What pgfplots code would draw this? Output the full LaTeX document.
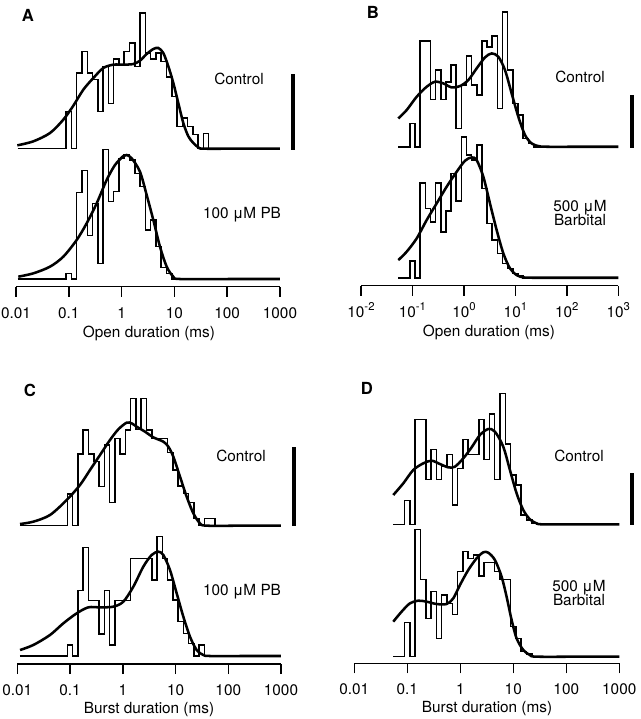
\documentclass[border=0pt]{standalone}
\usepackage{pgfplots}
\pgfplotsset{compat=1.18}
\usepackage{fontspec}
\setmainfont{TeX Gyre Heros}

\newcommand{\lab}{\fontsize{11.5}{13}\selectfont}
\newcommand{\ee}[1]{10\raisebox{0.85ex}{\fontsize{8.5}{9}\selectfont #1}}

% x is log10(duration in ms); y is in thirds of a pixel above the axis line
\pgfplotsset{
  panel/.style={
    clip=false, xmin=-2, xmax=3, ymin=0, ymax=860, y=0.25pt,
    axis x line=bottom, axis y line=none, ytick=\empty,
    axis line style={-, line width=1.1pt},
    xtick={-2,-1,0,1,2,3},
    tick align=outside, major tick length=7.5pt,
    tick style={black, line width=1.1pt},
    xticklabel style={font=\lab, anchor=base, yshift=-16pt},
    anchor=south west,
  },
  hist/.style={const plot, black, line width=1.15pt, no marks},
  fit/.style={smooth, tension=0.5, black, line width=1.9pt, no marks},
}

\begin{document}
\begin{tikzpicture}
\useasboundingbox (0,0) rectangle (480.75pt,-539.25pt);

% ---- A : open durations, PB
\begin{axis}[panel, x=39.6pt, at={(12pt,-215pt)},
  xticklabels={0.01,0.1,1,10,100,1000}]
\addplot[hist, y filter/.expression={y+414}] coordinates {
 (-1.97,0) (-1.05,112) (-0.95,0) (-0.85,227) (-0.75,292) (-0.65,227) (-0.55,207)
 (-0.45,112) (-0.35,247) (-0.25,135) (-0.15,269) (-0.05,252) (0.05,292) (0.15,317)
 (0.25,247) (0.35,407) (0.45,287) (0.55,269) (0.65,287) (0.75,262) (0.85,215)
 (0.95,157) (1.05,67) (1.15,92) (1.25,67) (1.35,42) (1.45,0) (1.55,45) (1.65,0) (3,0)};
\addplot[fit, y filter/.expression={y+414}] coordinates {
 (-1.975,10) (-1.672,22) (-1.356,47) (-1.104,87) (-0.914,129) (-0.725,177)
 (-0.535,212) (-0.346,242) (-0.157,252) (0.033,252) (0.222,254) (0.348,264)
 (0.475,284) (0.601,299) (0.696,302) (0.790,287) (0.885,247) (0.980,197)
 (1.074,137) (1.169,77) (1.264,37) (1.359,17) (1.453,4) (1.548,0) (2.2,0) (3,0)};
\addplot[hist, y filter/.expression={y+23}] coordinates {
 (-1.97,0) (-1.05,17) (-0.95,0) (-0.85,260) (-0.75,325) (-0.65,130) (-0.55,227)
 (-0.45,47) (-0.35,389) (-0.25,232) (-0.15,262) (-0.05,362) (0.05,372) (0.15,357)
 (0.25,317) (0.35,277) (0.45,147) (0.55,177) (0.65,97) (0.75,34) (0.85,17) (0.95,0) (3,0)};
\addplot[fit, y filter/.expression={y+23}] coordinates {
 (-1.956,7) (-1.672,17) (-1.356,37) (-1.104,67) (-0.851,117) (-0.662,167)
 (-0.472,227) (-0.283,297) (-0.125,342) (0.033,369) (0.096,372) (0.191,362)
 (0.348,322) (0.475,252) (0.601,177) (0.727,97) (0.854,37) (0.980,7) (1.106,0) (2.1,0) (3,0)};
\end{axis}

% ---- B : open durations, barbital
\begin{axis}[panel, x=38.6pt, at={(270.75pt,-214.3pt)},
  xticklabels={\ee{-2},\ee{-1},\ee{0},\ee{1},\ee{2},\ee{3}}]
\addplot[hist, y filter/.expression={y+417}] coordinates {
 (-1.275,0) (-1.05,70) (-0.95,0) (-0.85,318) (-0.75,318) (-0.65,142) (-0.55,230)
 (-0.45,142) (-0.35,195) (-0.25,245) (-0.15,55) (-0.05,185) (0.05,272) (0.15,185)
 (0.25,155) (0.35,318) (0.45,300) (0.55,332) (0.65,115) (0.75,405) (0.85,230)
 (0.95,130) (1.05,95) (1.15,25) (1.25,10) (1.35,0) (3,0)};
\addplot[fit, y filter/.expression={y+417}] coordinates {
 (-1.275,85) (-1.113,110) (-0.918,150) (-0.724,180) (-0.562,195) (-0.400,190)
 (-0.238,178) (-0.076,182) (0.085,200) (0.247,235) (0.409,268) (0.539,280)
 (0.668,270) (0.798,230) (0.927,160) (1.057,90) (1.187,35) (1.316,10) (1.446,2)
 (1.607,0) (2.3,0) (3,0)};
\addplot[hist, y filter/.expression={y+24}] coordinates {
 (-1.275,0) (-1.05,51) (-0.95,0) (-0.85,285) (-0.75,208) (-0.65,168) (-0.55,285)
 (-0.45,138) (-0.35,200) (-0.25,313) (-0.15,231) (-0.05,422) (0.05,368) (0.15,353)
 (0.25,398) (0.35,268) (0.45,163) (0.55,113) (0.65,73) (0.75,43) (0.85,28)
 (0.95,13) (1.05,5) (1.15,0) (3,0)};
\addplot[fit, y filter/.expression={y+24}] coordinates {
 (-1.275,53) (-1.113,78) (-0.918,118) (-0.724,173) (-0.530,223) (-0.336,273)
 (-0.141,318) (0.021,351) (0.150,361) (0.247,353) (0.377,303) (0.506,223)
 (0.636,143) (0.766,73) (0.895,28) (1.025,8) (1.154,1) (1.35,0) (2.2,0) (3,0)};
\end{axis}

% ---- C : burst durations, PB
\begin{axis}[panel, x=39.55pt, at={(13pt,-498pt)},
  xticklabels={0.01,0.1,1,10,100,1000}]
\addplot[hist, y filter/.expression={y+415}] coordinates {
 (-1.95,0) (-1.05,95) (-0.95,0) (-0.85,215) (-0.75,287) (-0.65,215) (-0.55,192)
 (-0.45,117) (-0.35,242) (-0.25,69) (-0.15,262) (-0.05,215) (0.05,287) (0.15,382)
 (0.25,289) (0.35,382) (0.45,287) (0.55,262) (0.65,262) (0.75,262) (0.85,219)
 (0.95,167) (1.05,119) (1.15,97) (1.25,70) (1.35,22) (1.45,0) (1.55,22) (1.65,22)
 (1.75,0) (3,0)};
\addplot[fit, y filter/.expression={y+415}] coordinates {
 (-1.949,5) (-1.697,12) (-1.381,32) (-1.064,77) (-0.812,122) (-0.622,167)
 (-0.432,212) (-0.243,257) (-0.085,289) (0.073,309) (0.168,307) (0.263,297)
 (0.421,282) (0.579,265) (0.769,252) (0.864,237) (0.958,207) (1.085,147)
 (1.211,87) (1.338,37) (1.464,7) (1.590,0) (2.3,0) (3,0)};
\addplot[hist, y filter/.expression={y+24}] coordinates {
 (-1.95,0) (-1.05,33) (-0.95,0) (-0.85,196) (-0.75,326) (-0.65,166) (-0.55,166)
 (-0.45,66) (-0.35,196) (-0.25,33) (-0.15,166) (-0.05,166) (0.05,166) (0.15,293)
 (0.25,293) (0.35,293) (0.45,293) (0.55,228) (0.65,358) (0.75,293) (0.85,228)
 (0.95,168) (1.05,103) (1.15,68) (1.25,38) (1.35,0) (1.45,33) (1.55,0) (3,0)};
\addplot[fit, y filter/.expression={y+24}] coordinates {
 (-1.949,18) (-1.697,33) (-1.381,63) (-1.128,98) (-0.875,128) (-0.654,146)
 (-0.432,146) (-0.179,148) (0.010,163) (0.200,208) (0.389,268) (0.547,303)
 (0.674,313) (0.769,303) (0.895,258) (1.022,188) (1.148,118) (1.274,58)
 (1.401,18) (1.527,3) (1.654,0) (2.3,0) (3,0)};
\end{axis}

% ---- D : burst durations, barbital
\begin{axis}[panel, x=39.75pt, at={(265.7pt,-497.5pt)},
  xticklabels={0.01,0.1,1,10,100,1000}]
\addplot[hist, y filter/.expression={y+417}] coordinates {
 (-1.264,0) (-1.05,71) (-0.95,0) (-0.85,315) (-0.75,315) (-0.65,135) (-0.55,225)
 (-0.45,135) (-0.35,175) (-0.25,210) (-0.15,58) (-0.05,168) (0.05,255) (0.15,210)
 (0.25,210) (0.35,315) (0.45,195) (0.55,331) (0.65,135) (0.75,393) (0.85,241)
 (0.95,148) (1.05,118) (1.15,28) (1.25,13) (1.35,3) (1.45,0) (3,0)};
\addplot[fit, y filter/.expression={y+417}] coordinates {
 (-1.264,88) (-1.075,123) (-0.887,163) (-0.698,183) (-0.541,191) (-0.384,181)
 (-0.226,171) (-0.101,173) (0.057,198) (0.214,231) (0.371,268) (0.528,286)
 (0.654,278) (0.811,233) (0.937,163) (1.063,93) (1.189,43) (1.314,15) (1.440,3)
 (1.566,0) (2.3,0) (3,0)};
\addplot[hist, y filter/.expression={y+20}] coordinates {
 (-1.264,0) (-1.05,102) (-0.95,0) (-0.85,382) (-0.75,232) (-0.65,115) (-0.55,195)
 (-0.45,55) (-0.35,185) (-0.25,160) (-0.15,127) (-0.05,255) (0.05,315) (0.15,295)
 (0.25,305) (0.35,242) (0.45,282) (0.55,282) (0.65,255) (0.75,232) (0.85,232)
 (0.95,90) (1.05,55) (1.15,15) (1.25,8) (1.35,0) (3,0)};
\addplot[fit, y filter/.expression={y+20}] coordinates {
 (-1.264,105) (-1.107,135) (-0.950,160) (-0.792,168) (-0.635,165) (-0.447,158)
 (-0.258,158) (-0.132,175) (-0.006,215) (0.151,260) (0.308,295) (0.434,313)
 (0.528,312) (0.654,290) (0.780,240) (0.874,180) (0.969,110) (1.063,55)
 (1.189,20) (1.314,5) (1.440,0) (2.3,0) (3,0)};
\end{axis}

% labels and scale bars, in pixel units of the reference
\begin{scope}[x=0.75pt,y=-0.75pt]
\foreach \p/\x/\y in {A/28/15, B/373/12, C/30/390, D/367/388}
  \node[font=\fontsize{12.5}{14}\selectfont\bfseries] at (\x,\y) {\p};
\node[font=\lab] at (239,79) {Control};
\node[font=\lab] at (242,215) {100 μM PB};
\node[font=\lab] at (580,77) {Control};
\node[font=\lab, align=center, inner sep=0pt] at (580,213) {500 μM\\[-2pt]Barbital};
\node[font=\lab] at (241,456) {Control};
\node[font=\lab] at (242,592) {100 μM PB};
\node[font=\lab] at (579,456) {Control};
\node[font=\lab, align=center, inner sep=0pt] at (579,593) {500 μM\\[-2pt]Barbital};
\node[font=\lab] at (149,333) {Open duration (ms)};
\node[font=\lab] at (489,332) {Open duration (ms)};
\node[font=\lab] at (149,710) {Burst duration (ms)};
\node[font=\lab] at (487,709) {Burst duration (ms)};
\draw[line width=2.3pt] (293,74) -- (293,149.5);
\draw[line width=2.3pt] (632,95) -- (632,147.5);
\draw[line width=2.3pt] (294,447) -- (294,526);
\draw[line width=2.3pt] (632,473) -- (632,525);
\end{scope}
\end{tikzpicture}
\end{document}
